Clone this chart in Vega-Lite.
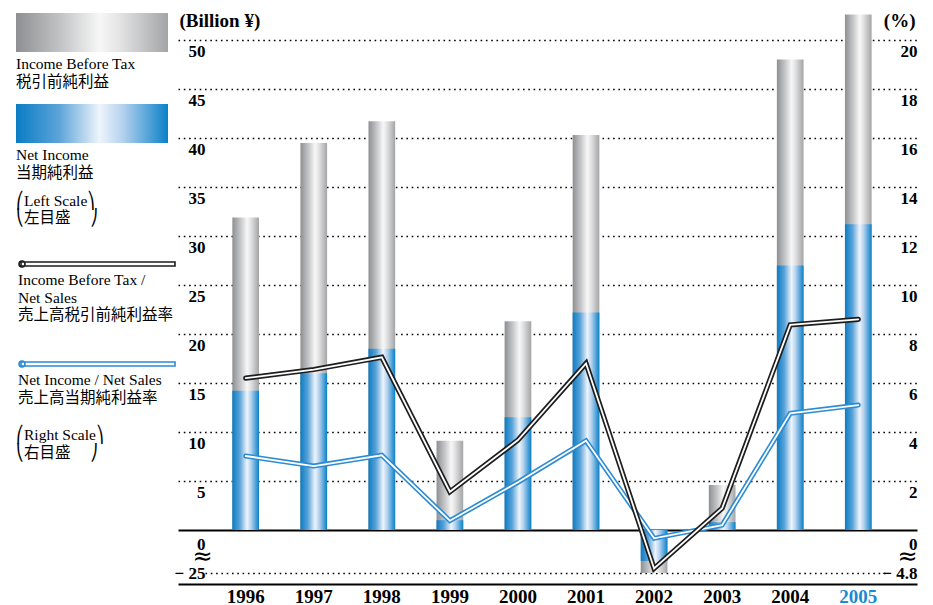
{
  "$schema": "https://vega.github.io/schema/vega-lite/v6.json",
  "width": 739,
  "height": 584,
  "autosize": "none",
  "padding": {"left": 178, "top": 0, "right": 16, "bottom": 21},
  "background": "white",
  "config": {"view": {"stroke": null}, "font": "Liberation Serif"},
  "datasets": {
    "bars": [
      {"year": "1996", "series": "Income Before Tax", "value": 31.9},
      {"year": "1997", "series": "Income Before Tax", "value": 39.5},
      {"year": "1998", "series": "Income Before Tax", "value": 41.7},
      {"year": "1999", "series": "Income Before Tax", "value": 9.1},
      {"year": "2000", "series": "Income Before Tax", "value": 21.3},
      {"year": "2001", "series": "Income Before Tax", "value": 40.3},
      {"year": "2002", "series": "Income Before Tax", "value": -25},
      {"year": "2003", "series": "Income Before Tax", "value": 4.6},
      {"year": "2004", "series": "Income Before Tax", "value": 48.0},
      {"year": "2005", "series": "Income Before Tax", "value": 52.6},
      {"year": "1996", "series": "Net Income", "value": 14.2},
      {"year": "1997", "series": "Net Income", "value": 16.0},
      {"year": "1998", "series": "Net Income", "value": 18.5},
      {"year": "1999", "series": "Net Income", "value": 1.0},
      {"year": "2000", "series": "Net Income", "value": 11.5},
      {"year": "2001", "series": "Net Income", "value": 22.2},
      {"year": "2002", "series": "Net Income", "value": -18},
      {"year": "2003", "series": "Net Income", "value": 0.8},
      {"year": "2004", "series": "Net Income", "value": 27.0},
      {"year": "2005", "series": "Net Income", "value": 31.2}
    ],
    "ratios": [
      {"year": "1996", "series": "Income Before Tax / Net Sales", "pct": 6.2},
      {"year": "1997", "series": "Income Before Tax / Net Sales", "pct": 6.55},
      {"year": "1998", "series": "Income Before Tax / Net Sales", "pct": 7.05},
      {"year": "1999", "series": "Income Before Tax / Net Sales", "pct": 1.56},
      {"year": "2000", "series": "Income Before Tax / Net Sales", "pct": 3.67},
      {"year": "2001", "series": "Income Before Tax / Net Sales", "pct": 6.8},
      {"year": "2002", "series": "Income Before Tax / Net Sales", "pct": -4.3},
      {"year": "2003", "series": "Income Before Tax / Net Sales", "pct": 0.89},
      {"year": "2004", "series": "Income Before Tax / Net Sales", "pct": 8.37},
      {"year": "2005", "series": "Income Before Tax / Net Sales", "pct": 8.6},
      {"year": "1996", "series": "Net Income / Net Sales", "pct": 3.02},
      {"year": "1997", "series": "Net Income / Net Sales", "pct": 2.61},
      {"year": "1998", "series": "Net Income / Net Sales", "pct": 3.05},
      {"year": "1999", "series": "Net Income / Net Sales", "pct": 0.38},
      {"year": "2000", "series": "Net Income / Net Sales", "pct": 1.95},
      {"year": "2001", "series": "Net Income / Net Sales", "pct": 3.64},
      {"year": "2002", "series": "Net Income / Net Sales", "pct": -0.93},
      {"year": "2003", "series": "Net Income / Net Sales", "pct": 0.2},
      {"year": "2004", "series": "Net Income / Net Sales", "pct": 4.76},
      {"year": "2005", "series": "Net Income / Net Sales", "pct": 5.1}
    ]
  },
  "resolve": {"scale": {"y": "independent"}},
  "layer": [
    {
      "data": {"name": "bars"},
      "resolve": {"scale": {"opacity": "independent"}, "legend": {"opacity": "independent"}},
      "encoding": {
        "x": {
          "field": "year", "type": "ordinal",
          "scale": {"paddingInner": 0.608, "paddingOuter": 0.7325, "align": 0.545},
          "axis": {
            "orient": "bottom", "title": null, "grid": false,
            "domain": true, "domainColor": "black", "domainWidth": 2.2,
            "ticks": false, "tickSize": 0, "labelAngle": 0,
            "labelPadding": 12, "labelBaseline": "middle",
            "labelFont": "Liberation Serif", "labelFontSize": 19, "labelFontWeight": "bold",
            "labelColor": {"condition": {"test": "datum.value == '2005'", "value": "#1a8ad4"}, "value": "black"}
          }
        },
        "y": {
          "field": "value", "type": "quantitative",
          "scale": {"domain": [-25, 0, 50], "range": [573, 530, 40], "nice": false, "zero": false},
          "axis": {
            "orient": "left",
            "values": [-25, -0.001, 0, 5, 10, 15, 20, 25, 30, 35, 40, 45, 50],
            "labelExpr": "datum.value == -25 ? '− 25' : datum.value == -0.001 ? '≈' : datum.label",
            "domain": false, "ticks": false, "tickSize": 0,
            "labelAlign": "right", "labelBaseline": "middle",
            "labelPadding": {"condition": {"test": "datum.value == -0.001", "value": -34}, "value": -27},
            "labelFont": {"condition": {"test": "datum.value == -0.001", "value": "DejaVu Sans"}, "value": "Liberation Serif"},
            "labelFontSize": {"condition": {"test": "datum.value == -0.001", "value": 24}, "value": 17},
            "labelFontWeight": {"condition": {"test": "datum.value == -0.001", "value": "normal"}, "value": "bold"},
            "labelColor": "black",
            "labelOffset": {"condition": [{"test": "datum.value == -25", "value": 0}, {"test": "datum.value == -0.001", "value": 26}, {"test": "datum.value == 0", "value": 14}], "value": 11},
            "labelOverlap": false, "labelFlush": false,
            "grid": true, "gridColor": "black",
            "gridOpacity": {"condition": {"test": "datum.value == -0.001", "value": 0}, "value": 1},
            "gridDash": {"condition": [
              {"test": "datum.value == 0", "value": []},
              {"test": "datum.value == -25", "value": [0, 27, 1.6,3.7,1.6,3.7,1.6,3.7,1.6,3.7,1.6,3.7,1.6,3.7,1.6,3.7,1.6,3.7,1.6,3.7,1.6,3.7, 1.6,3.7,1.6,3.7,1.6,3.7,1.6,3.7,1.6,3.7,1.6,3.7,1.6,3.7,1.6,3.7,1.6,3.7,1.6,3.7, 1.6,3.7,1.6,3.7,1.6,3.7,1.6,3.7,1.6,3.7,1.6,3.7,1.6,3.7,1.6,3.7,1.6,3.7,1.6,3.7, 1.6,3.7,1.6,3.7,1.6,3.7,1.6,3.7,1.6,3.7,1.6,3.7,1.6,3.7,1.6,3.7,1.6,3.7,1.6,3.7, 1.6,3.7,1.6,3.7,1.6,3.7,1.6,3.7,1.6,3.7,1.6,3.7,1.6,3.7,1.6,3.7,1.6,3.7,1.6,3.7, 1.6,3.7,1.6,3.7,1.6,3.7,1.6,3.7,1.6,3.7,1.6,3.7,1.6,3.7,1.6,3.7,1.6,3.7,1.6,3.7, 1.6,3.7,1.6,3.7,1.6,3.7,1.6,3.7,1.6,3.7,1.6,3.7,1.6,3.7,1.6,3.7,1.6,3.7,1.6,3.7, 1.6,3.7,1.6,3.7,1.6,3.7,1.6,3.7,1.6,3.7,1.6,3.7,1.6,3.7,1.6,3.7,1.6,3.7,1.6,3.7, 1.6,3.7,1.6,3.7,1.6,3.7,1.6,3.7,1.6,3.7,1.6,3.7,1.6,3.7,1.6,3.7,1.6,3.7,1.6,3.7, 1.6,3.7,1.6,3.7,1.6,3.7,1.6,3.7,1.6,3.7,1.6,3.7,1.6,3.7,1.6,3.7,1.6,3.7,1.6,3.7, 1.6,3.7,1.6,3.7,1.6,3.7,1.6,3.7,1.6,3.7,1.6,3.7,1.6,3.7,1.6,3.7,1.6,3.7,1.6,3.7, 1.6,3.7,1.6,3.7,1.6,3.7,1.6,3.7,1.6,3.7,1.6,3.7,1.6,3.7,1.6,3.7,1.6,3.7,1.6,3.7, 1.6,3.7,1.6,3.7,1.6,3.7,1.6,3.7,1.6,3.7,1.6,3.7,1.6,3.7,1.6,3.7,1.6,3.7, 0, 120]}
            ], "value": [1.6, 3.7]},
            "gridWidth": {"condition": {"test": "datum.value == 0", "value": 2}, "value": 1.6},
            "title": "(Billion ¥)", "titleAngle": 0, "titleAlign": "left", "titleBaseline": "middle",
            "titleX": 1, "titleY": 20, "titleFont": "Liberation Serif", "titleFontSize": 19,
            "titleFontWeight": "bold", "titleColor": "black"
          }
        },
        "y2": {"datum": 0}
      },
      "layer": [
        {
          "transform": [{"filter": "datum.series == 'Income Before Tax'"}],
          "mark": {"type": "bar", "clip": false, "fill": {"gradient": "linear", "x1": 0, "x2": 1, "y1": 0, "y2": 0, "stops": [
                {"offset": 0, "color": "#8e8f92"}, {"offset": 0.3, "color": "#c4c5c7"},
                {"offset": 0.55, "color": "#f7f7f7"}, {"offset": 0.68, "color": "#e4e4e5"},
                {"offset": 1, "color": "#a3a4a6"}]}},
          "encoding": {
            "opacity": {
              "field": "series", "type": "nominal",
              "scale": {"domain": ["Income Before Tax"], "range": [1]},
              "legend": {
                "orient": "none", "legendX": -162, "legendY": 47, "direction": "vertical", "padding": 0,
                "symbolType": "M-1,-4.4H14.2V-0.5H-1Z", "symbolSize": 400, "symbolStrokeWidth": 0, "symbolOpacity": 1,
                "labelExpr": "['Income Before Tax', '税引前純利益']",
                "labelFont": "Liberation Serif, Noto Sans CJK JP", "labelFontSize": 15.5, "labelColor": "black",
                "labelBaseline": "top", "labelOffset": -20, "labelLimit": 300,
                "title": null
              }
            }
          }
        },
        {
          "transform": [{"filter": "datum.series == 'Net Income'"}],
          "mark": {"type": "bar", "clip": false, "fill": {"gradient": "linear", "x1": 0, "x2": 1, "y1": 0, "y2": 0, "stops": [
                {"offset": 0, "color": "#0a7cc4"}, {"offset": 0.28, "color": "#5aa3d8"},
                {"offset": 0.55, "color": "#eef4fb"}, {"offset": 0.7, "color": "#b5d2ee"},
                {"offset": 1, "color": "#0a80c8"}]}},
          "encoding": {
            "opacity": {
              "field": "series", "type": "nominal",
              "scale": {"domain": ["Net Income"], "range": [1]},
              "legend": {
                "orient": "none", "legendX": -162, "legendY": 138, "direction": "vertical", "padding": 0,
                "symbolType": "M-1,-4.4H14.2V-0.5H-1Z", "symbolSize": 400, "symbolStrokeWidth": 0, "symbolOpacity": 1,
                "labelExpr": "['Net Income', '当期純利益']",
                "labelFont": "Liberation Serif, Noto Sans CJK JP", "labelFontSize": 15.5, "labelColor": "black",
                "labelBaseline": "top", "labelOffset": -20, "labelLimit": 300,
                "title": ["⎛Left Scale⎞", "⎝左目盛　 ⎠"], "titleOrient": "bottom", "titleAnchor": "start",
                "titleFont": "Liberation Serif, Noto Sans CJK JP", "titleFontSize": 15.5, "titleFontWeight": "normal",
                "titleLineHeight": 17, "titleColor": "black", "titlePadding": 13, "titleLimit": 300
              }
            }
          }
        }
      ]
    },
    {
      "data": {"name": "ratios"},
      "layer": [
        {
          "transform": [{"filter": "datum.series == 'Net Income / Net Sales'"}],
          "mark": {"type": "line", "strokeWidth": 5, "strokeJoin": "miter", "strokeCap": "round"},
          "encoding": {
            "x": {"field": "year", "type": "ordinal"},
            "y": {
              "field": "pct", "type": "quantitative",
              "scale": {"domain": [-4.8, 0, 20], "range": [573, 530, 40], "nice": false, "zero": false},
              "axis": {
                "orient": "right",
                "values": [-4.8, -0.0004, 0, 2, 4, 6, 8, 10, 12, 14, 16, 18, 20],
                "labelExpr": "datum.value == -4.8 ? '− 4.8' : datum.value == -0.0004 ? '≈' : datum.label",
                "domain": false, "ticks": false, "tickSize": 0, "grid": false,
                "labelAlign": "right", "labelPadding": 0, "labelBaseline": "middle",
                "labelFont": {"condition": {"test": "datum.value == -0.0004", "value": "DejaVu Sans"}, "value": "Liberation Serif"},
                "labelFontSize": {"condition": {"test": "datum.value == -0.0004", "value": 24}, "value": 17},
                "labelFontWeight": {"condition": {"test": "datum.value == -0.0004", "value": "normal"}, "value": "bold"},
                "labelColor": "black",
                "labelOffset": {"condition": [{"test": "datum.value == -4.8", "value": 0}, {"test": "datum.value == -0.0004", "value": 26}, {"test": "datum.value == 0", "value": 14}], "value": 11},
                "labelOverlap": false, "labelFlush": false,
                "title": "(%)", "titleAngle": 0, "titleAlign": "right", "titleBaseline": "middle",
                "titleX": -2, "titleY": 20, "titleFont": "Liberation Serif", "titleFontSize": 19,
                "titleFontWeight": "bold", "titleColor": "black"
              }
            },
            "stroke": {
              "field": "series", "type": "nominal",
              "scale": {"domain": ["Income Before Tax / Net Sales", "Net Income / Net Sales"], "range": ["#1e1e1e", "#2b8bd3"]},
              "legend": {
                "orient": "none", "legendX": -162, "legendY": 262, "direction": "vertical", "padding": 0,
                "symbolType": "M-0.6,-1.1H14.8V-0.7H-0.6Z M-0.8,-0.9a0.3,0.3 0 1,0 0.6,0a0.3,0.3 0 1,0 -0.6,0Z",
                "symbolSize": 400, "symbolStrokeWidth": 1.6, "symbolFillColor": "white", "symbolOpacity": 1,
                "labelExpr": "datum.label == 'Net Income / Net Sales' ? ['Net Income / Net Sales', '売上高当期純利益率'] : ['Income Before Tax /', 'Net Sales', '売上高税引前純利益率']",
                "labelFont": "Liberation Serif, Noto Sans CJK JP", "labelFontSize": 15.5, "labelColor": "black",
                "labelBaseline": "top", "labelOffset": -20, "labelLimit": 300,
                "rowPadding": 33,
                "title": ["⎛Right Scale⎞", "⎝右目盛　  ⎠"], "titleOrient": "bottom", "titleAnchor": "start",
                "titleFont": "Liberation Serif, Noto Sans CJK JP", "titleFontSize": 15.5, "titleFontWeight": "normal",
                "titleLineHeight": 18, "titleColor": "black", "titlePadding": 22, "titleLimit": 300
              }
            }
          }
        },
        {
          "transform": [{"filter": "datum.series == 'Net Income / Net Sales'"}],
          "mark": {"type": "line", "strokeWidth": 1.8, "color": "white", "strokeJoin": "miter", "strokeCap": "round"},
          "encoding": {
            "x": {"field": "year", "type": "ordinal"},
            "y": {"field": "pct", "type": "quantitative"}
          }
        },
        {
          "transform": [{"filter": "datum.series == 'Income Before Tax / Net Sales'"}],
          "mark": {"type": "line", "strokeWidth": 5.2, "strokeJoin": "miter", "strokeCap": "round"},
          "encoding": {
            "x": {"field": "year", "type": "ordinal"},
            "y": {"field": "pct", "type": "quantitative"},
            "stroke": {"field": "series", "type": "nominal"}
          }
        },
        {
          "transform": [{"filter": "datum.series == 'Income Before Tax / Net Sales'"}],
          "mark": {"type": "line", "strokeWidth": 1.8, "color": "white", "strokeJoin": "miter", "strokeCap": "round"},
          "encoding": {
            "x": {"field": "year", "type": "ordinal"},
            "y": {"field": "pct", "type": "quantitative"}
          }
        }
      ]
    }
  ]
}
